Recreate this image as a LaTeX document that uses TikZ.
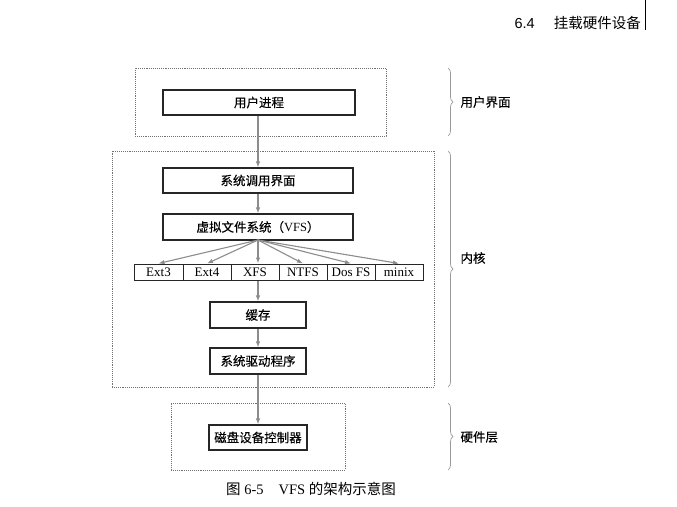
\documentclass[tikz,border=0pt]{standalone}
\usepackage{fontspec}
\setmainfont{Liberation Serif}
\newfontfamily\cjk[FakeBold=0.3]{Noto Sans CJK SC}
\newfontfamily\cjkhd{Noto Sans CJK SC}
\newfontfamily\hdsans{Liberation Sans}
\usetikzlibrary{decorations.pathreplacing,arrows.meta}
\begin{document}
\begin{tikzpicture}[x=1pt,y=-1pt,
  solidbox/.style={draw=black!85,line width=1.1pt,minimum height=25pt,inner sep=0pt,font=\fontsize{12.5}{14}\selectfont},
  fscell/.style={draw=black!85,line width=1pt,minimum height=16pt,inner sep=0pt,font=\fontsize{13}{14}\selectfont},
  layerbox/.style={draw=black!55,densely dotted,line width=0.9pt},
  conn/.style={draw=black!45,line width=1.1pt,-{Latex[length=6pt,width=4.5pt]}},
  bracestyle/.style={draw=black!40,line width=0.7pt,decorate,decoration={brace,amplitude=5pt}},
  sidelabel/.style={anchor=west,font=\cjk\fontsize{12.5}{14}\selectfont}]
\useasboundingbox (0,0) rectangle (677,506);
% header
\node[anchor=base east,inner sep=0pt,font=\fontsize{14.5}{16}\selectfont] (hdr) at (641,28) {\hdsans 6.4\hspace{19pt}{\cjkhd 挂载硬件设备}};
\coordinate (vt) at (645,0);
\coordinate (vb) at (645,30);
\draw[line width=0.9pt] (vt) -- (vb);
% layer boxes
\node[layerbox,minimum width=251pt,minimum height=68pt,inner sep=0pt] (ubox) at (260.5,102) {};
\node[layerbox,minimum width=322pt,minimum height=236pt,inner sep=0pt] (kbox) at (273,269) {};
\node[layerbox,minimum width=174pt,minimum height=67pt,inner sep=0pt] (hbox) at (258,436.5) {};
% boxes
\node[solidbox,minimum width=192pt] (proc) at (259,102.5) {\cjk 用户进程};
\node[solidbox,minimum width=190pt] (sci) at (258,180.5) {\cjk 系统调用界面};
\node[solidbox,minimum width=190pt,minimum height=26pt] (vfs) at (258,227) {{\cjk 虚拟文件系统（}VFS{\cjk ）}};
\node[fscell,minimum width=49pt] (ext3) at (158.5,272) {Ext3};
\node[fscell,minimum width=48pt] (ext4) at (207,272) {Ext4};
\node[fscell,minimum width=48pt] (xfs) at (255,272) {XFS};
\node[fscell,minimum width=48pt] (ntfs) at (303,272) {NTFS};
\node[fscell,minimum width=48pt] (dos) at (351,272) {Dos FS};
\node[fscell,minimum width=48pt] (minix) at (399,272) {minix};
\node[solidbox,minimum width=96pt,minimum height=26pt] (cache) at (258,315) {\cjk 缓存};
\node[solidbox,minimum width=96pt,minimum height=26pt] (drv) at (258,361) {\cjk 系统驱动程序};
\node[solidbox,minimum width=98pt] (disk) at (258,437.5) {\cjk 磁盘设备控制器};
% connectors
\coordinate (vfsb) at (258,240);
\draw[conn] (proc.south -| sci.north) -- (sci.north);
\draw[conn] (sci.south) -- (vfs.north);
\draw[conn] (vfsb) -- (ext3.north);
\draw[conn] (vfsb) -- (ext4.north);
\draw[conn] (vfsb) -- (xfs.north -| vfsb);
\draw[conn] (vfsb) -- (ntfs.north);
\draw[conn] (vfsb) -- (dos.north);
\draw[conn] (vfsb) -- (minix.north);
\draw[conn] (xfs.south -| cache.north) -- (cache.north);
\draw[conn] (cache.south) -- (drv.north);
\draw[conn] (drv.south) -- (disk.north);
% braces
\coordinate (b1t) at (448,68);
\coordinate (b1b) at (448,136);
\coordinate (b2t) at (448,151);
\coordinate (b2b) at (448,387);
\coordinate (b3t) at (448,403);
\coordinate (b3b) at (448,470);
\draw[bracestyle] (b1t) -- (b1b);
\draw[bracestyle] (b2t) -- (b2b);
\draw[bracestyle] (b3t) -- (b3b);
\node[sidelabel] (l1) at (457,102) {用户界面};
\node[sidelabel] (l2) at (457,258) {内核};
\node[sidelabel] (l3) at (457,437) {硬件层};
% caption
\node[font=\fontsize{14.5}{16}\selectfont] (cap) at (311,489) {{\cjkhd 图} 6-5\hspace{15pt}VFS {\cjkhd 的架构示意图}};
\end{tikzpicture}
\end{document}
